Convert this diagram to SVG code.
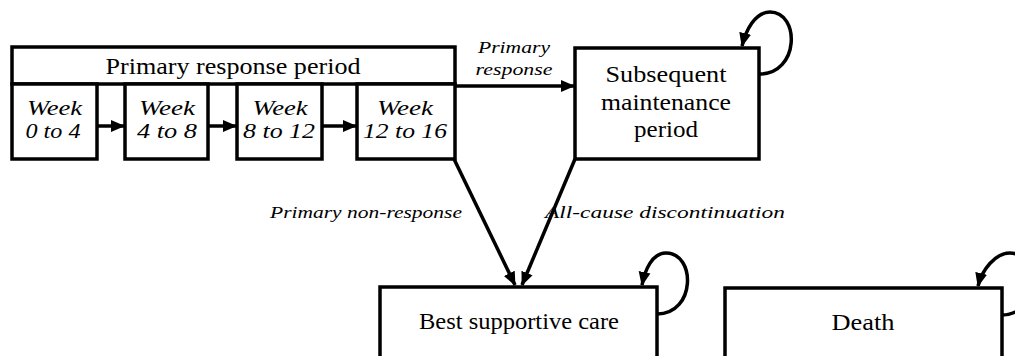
<svg xmlns="http://www.w3.org/2000/svg" width="1015" height="356" viewBox="0 0 1015 356">
<style>
.box{fill:#fff;stroke:#000;stroke-width:3.5}
.t{font-family:'Liberation Serif', 'Times New Roman', Times, serif;fill:#000}
.n{font-size:23px}
.w{font-size:21px;font-style:italic}
.l{font-size:17px;font-style:italic}
.c{fill:none;stroke:#000;stroke-width:3.5}
</style>
<defs>
<marker id="ah" markerUnits="userSpaceOnUse" markerWidth="14" markerHeight="14" viewBox="0 0 14 14" refX="13" refY="7" orient="auto">
<path d="M0,1 L14,7 L0,13 z" fill="#000"/>
</marker>
</defs>
<g id="primary-period">
<rect class="box" x="12" y="47" width="443" height="37"/>
<text class="t n" x="233" y="74" text-anchor="middle" textLength="255" lengthAdjust="spacingAndGlyphs">Primary response period</text>
</g>
<g id="week0">
<rect class="box" x="12" y="84" width="85" height="75"/>
<text class="t w" x="54.5" y="115" text-anchor="middle" textLength="55" lengthAdjust="spacingAndGlyphs">Week</text>
<text class="t w" x="53" y="138" text-anchor="middle" textLength="55" lengthAdjust="spacingAndGlyphs">0 to 4</text>
</g>
<g id="week4">
<rect class="box" x="125" y="84" width="83" height="75"/>
<text class="t w" x="167" y="115" text-anchor="middle" textLength="56" lengthAdjust="spacingAndGlyphs">Week</text>
<text class="t w" x="167" y="138" text-anchor="middle" textLength="60" lengthAdjust="spacingAndGlyphs">4 to 8</text>
</g>
<g id="week8">
<rect class="box" x="237" y="84" width="85" height="75"/>
<text class="t w" x="280" y="115" text-anchor="middle" textLength="55" lengthAdjust="spacingAndGlyphs">Week</text>
<text class="t w" x="279" y="138" text-anchor="middle" textLength="72" lengthAdjust="spacingAndGlyphs">8 to 12</text>
</g>
<g id="week12">
<rect class="box" x="357" y="84" width="98" height="75"/>
<text class="t w" x="405" y="115" text-anchor="middle" textLength="56" lengthAdjust="spacingAndGlyphs">Week</text>
<text class="t w" x="405" y="138" text-anchor="middle" textLength="84" lengthAdjust="spacingAndGlyphs">12 to 16</text>
</g>
<g id="maintenance">
<rect class="box" x="575" y="48" width="184" height="111"/>
<text class="t n" x="666" y="82" text-anchor="middle" textLength="121" lengthAdjust="spacingAndGlyphs">Subsequent</text>
<text class="t n" x="666" y="110" text-anchor="middle" textLength="130" lengthAdjust="spacingAndGlyphs">maintenance</text>
<text class="t n" x="666" y="137" text-anchor="middle" textLength="64" lengthAdjust="spacingAndGlyphs">period</text>
</g>
<g id="bsc">
<rect class="box" x="380" y="287" width="277" height="80"/>
<text class="t n" x="519" y="329" text-anchor="middle" textLength="200" lengthAdjust="spacingAndGlyphs">Best supportive care</text>
</g>
<g id="death">
<rect class="box" x="725" y="288" width="277" height="80"/>
<text class="t n" x="863" y="330" text-anchor="middle" textLength="63" lengthAdjust="spacingAndGlyphs">Death</text>
</g>
<g id="connectors">
<line class="c" x1="97" y1="126" x2="124" y2="126" marker-end="url(#ah)"/>
<line class="c" x1="208" y1="126" x2="236" y2="126" marker-end="url(#ah)"/>
<line class="c" x1="322" y1="126" x2="356" y2="126" marker-end="url(#ah)"/>
<line class="c" x1="455" y1="86" x2="574" y2="86" marker-end="url(#ah)"/>
<line class="c" x1="454" y1="159" x2="515" y2="285" marker-end="url(#ah)"/>
<line class="c" x1="575" y1="159" x2="522" y2="285" marker-end="url(#ah)"/>
<path class="c" d="M759,74 C800,74 800,12 770,12 C755,12 746,30 742,46" marker-end="url(#ah)"/>
<path class="c" d="M657,314 C696,314 696,253 666,253 C652,253 645,270 642,285" marker-end="url(#ah)"/>
<path class="c" d="M1002,315 C1040,315 1040,253 1010,253 C995,253 982,270 978,286" marker-end="url(#ah)"/>
<text class="t l" x="514" y="53" text-anchor="middle" textLength="72" lengthAdjust="spacingAndGlyphs">Primary</text>
<text class="t l" x="514" y="75" text-anchor="middle" textLength="77" lengthAdjust="spacingAndGlyphs">response</text>
<text class="t l" x="366" y="218" text-anchor="middle" textLength="192" lengthAdjust="spacingAndGlyphs">Primary non-response</text>
<text class="t l" x="665" y="218" text-anchor="middle" textLength="240" lengthAdjust="spacingAndGlyphs">All-cause discontinuation</text>
</g>
</svg>
